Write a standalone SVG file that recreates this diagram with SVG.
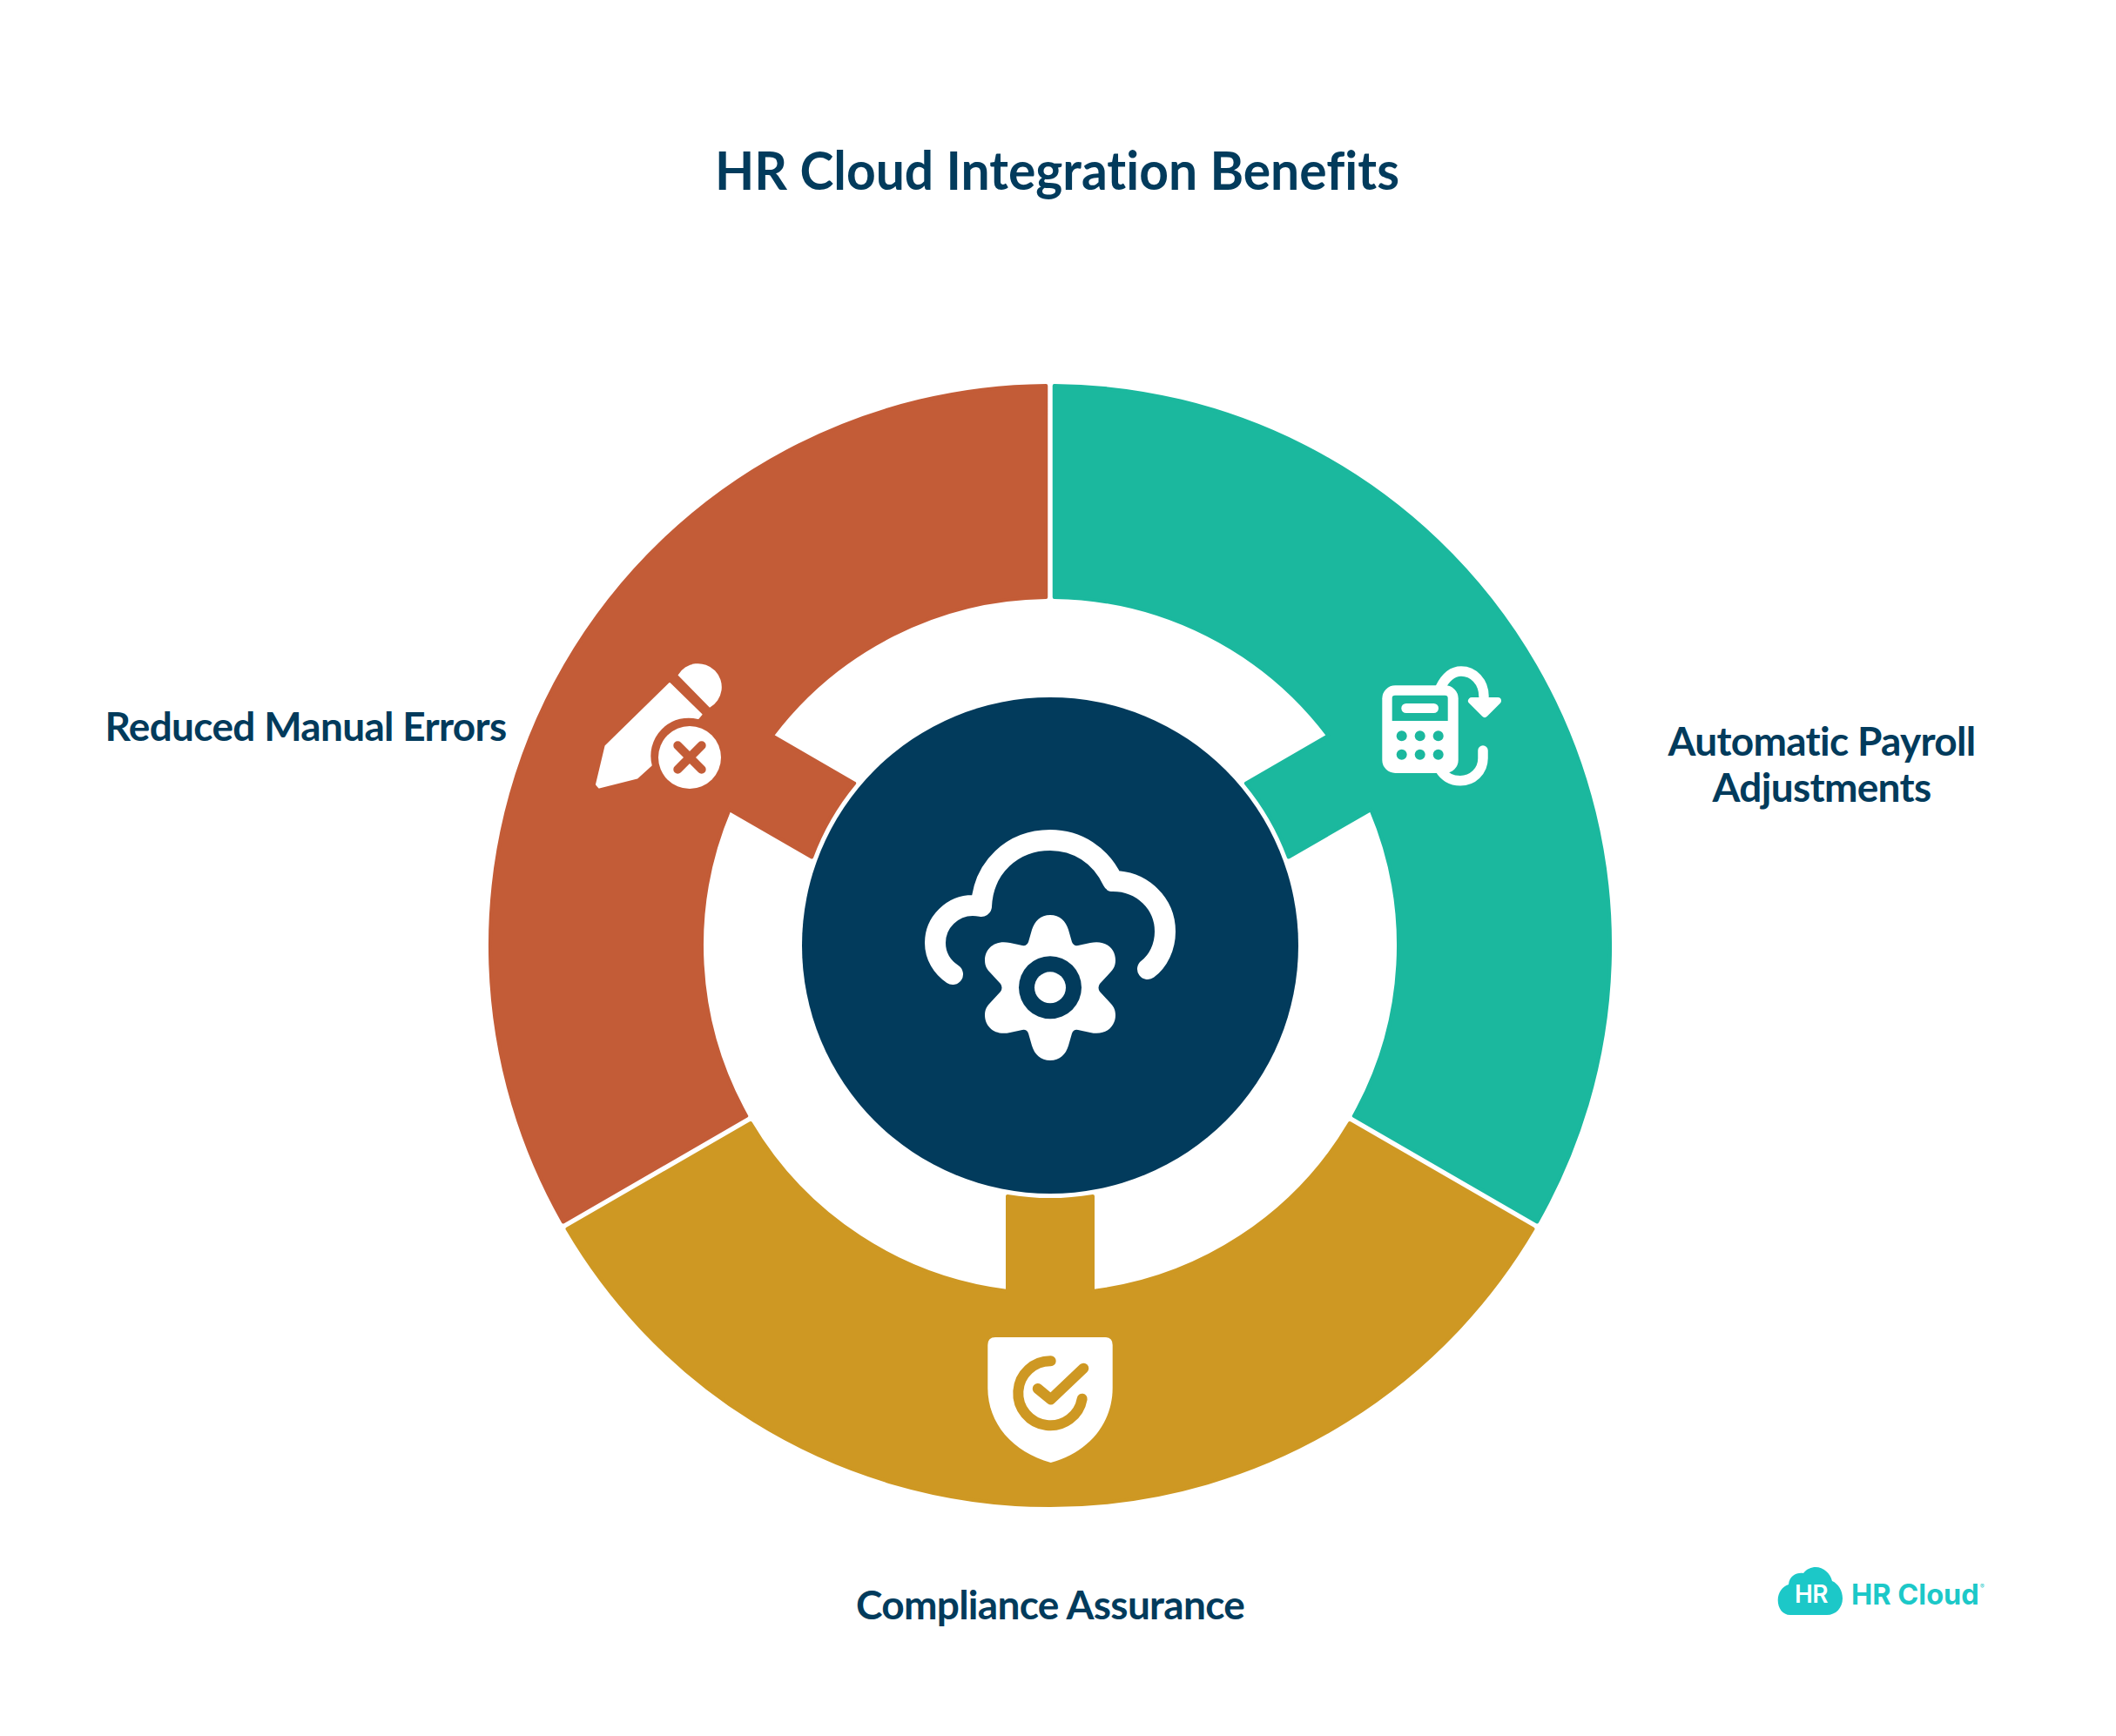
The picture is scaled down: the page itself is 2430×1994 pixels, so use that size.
<svg xmlns="http://www.w3.org/2000/svg" width="2430" height="1994" viewBox="0 0 2430 1994">
<style>
text{font-family:"Lato","Liberation Sans",sans-serif;fill:#023B5C;font-weight:700}
.lbl{font-size:46px;letter-spacing:-0.7px}
.lg{font-family:Inter,"Liberation Sans",sans-serif;font-weight:700;fill:#1CC8C8}
.nl{font-variant-ligatures:none}
.w{fill:#fff}
.ws{fill:none;stroke:#fff;stroke-linecap:round;stroke-linejoin:round}
.seg{stroke-width:4;stroke-linejoin:round}
</style>
<defs>
<path id="seg" d="M-344 204.1L-554.5 325.6A643 643 0 0 0 554.5 325.6L344 204.1A400 400 0 0 1 49 397L49 287.9A292 292 0 0 1 -49 287.9L-49 397A400 400 0 0 1 -344 204.1Z"/>
</defs>
<rect width="2430" height="1994" fill="#fff"/>
<text id="title" class="nl" x="821" y="218" textLength="786" lengthAdjust="spacingAndGlyphs" style="font-size:62px">HR Cloud Integration Benefits</text>
<g id="segments">
<g id="seg-teal"><use href="#seg" class="seg" transform="translate(1206 1086) rotate(-120)" fill="#1BB89E" stroke="#1BB89E"/></g>
<g id="seg-red"><use href="#seg" class="seg" transform="translate(1206 1086) rotate(120)" fill="#C35C37" stroke="#C35C37"/></g>
<g id="seg-gold"><use href="#seg" class="seg" transform="translate(1206 1086)" fill="#CE9823" stroke="#CE9823"/></g>
</g>
<g id="hub">
<circle cx="1206" cy="1086" r="285" fill="#023B5C"/>
<path class="ws" stroke-width="24" d="M1094 1119C1082 1111 1074 1098 1074 1083C1074 1059 1094 1040 1117 1040Q1122 1040 1127 1041C1129 996 1163 965 1206 965C1237 965 1264 982 1278 1012C1312 1012 1338 1038 1338 1070C1338 1088 1330 1104 1318 1113"/>
<path class="w" d="M1206 1051C1217 1051 1224 1058 1227 1068L1231 1082Q1233 1087 1238 1086L1252 1083C1270 1079 1281 1090 1281 1103C1281 1110 1278 1114 1275 1117L1263 1130Q1260 1134.5 1263 1139L1275 1152C1278 1155 1281 1159 1281 1166C1281 1179 1270 1190 1252 1186L1238 1183Q1233 1182 1231 1187L1227 1201C1224 1211 1217 1218 1206 1218C1195 1218 1188 1211 1185 1201L1181 1187Q1179 1182 1174 1183L1160 1186C1142 1190 1131 1179 1131 1166C1131 1159 1134 1155 1137 1152L1149 1139Q1152 1134.5 1149 1130L1137 1117C1134 1114 1131 1110 1131 1103C1131 1090 1142 1079 1160 1083L1174 1086Q1179 1087 1181 1082L1185 1068C1188 1058 1195 1051 1206 1051Z"/>
<circle cx="1206" cy="1134.3" r="36" fill="#023B5C"/>
<circle cx="1206" cy="1134.3" r="18" fill="#fff"/>
</g>
<g id="icon-calc">
<path class="ws" stroke-width="11.5" d="M1654 790C1660 778 1668 771 1678 771C1692 771 1704 783 1704 800"/>
<path d="M1690 805H1720L1705 820Z" fill="#fff" stroke="#fff" stroke-width="8" stroke-linejoin="round"/>
<path class="ws" stroke-width="11.5" d="M1703 862V871C1703 886 1691 896.7 1677 896.7C1666 896.7 1658 891 1654 884"/>
<rect x="1587.3" y="787.3" width="87.4" height="100.7" rx="15" fill="#fff"/>
<path d="M1598.7 828V802Q1598.7 798.7 1602 798.7H1659.4Q1662.7 798.7 1662.7 802V828Z" fill="#1BB89E"/>
<rect x="1609.3" y="808" width="42.7" height="11" rx="5.5" fill="#fff"/>
<g fill="#1BB89E"><circle cx="1609.7" cy="845.3" r="6"/><circle cx="1630.7" cy="845.3" r="6"/><circle cx="1651.7" cy="845.3" r="6"/><circle cx="1609.7" cy="866.7" r="6"/><circle cx="1630.7" cy="866.7" r="6"/><circle cx="1651.7" cy="866.7" r="6"/></g>
</g>
<g id="icon-pencil">
<path class="w" d="M778.5 775.5A27 27 0 1 1 815 812.7Z"/>
<path class="w" stroke="#fff" stroke-width="2" stroke-linejoin="round" d="M769 785L805.5 820.7L801.7 825A44.5 44.5 0 0 0 747.7 879L731.7 893.5L688 904.5L685 901L695.5 857Z"/>
<circle cx="792" cy="870" r="36" fill="#fff"/>
<path d="M778.3 856.3L805.7 883.7M805.7 856.3L778.3 883.7" stroke="#C35C37" stroke-width="10" stroke-linecap="round" fill="none"/>
</g>
<g id="icon-shield">
<path class="w" d="M1143 1536H1269Q1277.7 1536 1277.7 1545V1594C1277.7 1635 1250 1668 1206.7 1680C1163 1668 1134.3 1635 1134.3 1594V1545Q1134.3 1536 1143 1536Z"/>
<path d="M1206.7 1563.3A37 37 0 1 0 1242.7 1606.7M1191.7 1595L1206.7 1607.3L1244.3 1571.7" fill="none" stroke="#CE9823" stroke-width="12" stroke-linecap="round" stroke-linejoin="round"/>
</g>
<g id="labels">
<text class="lbl" x="351" y="851" text-anchor="middle">Reduced Manual Errors</text>
<text class="lbl" x="2092" y="868" text-anchor="middle">Automatic Payroll</text>
<text class="lbl" x="2092" y="921" text-anchor="middle">Adjustments</text>
<text class="lbl" x="1206" y="1860" text-anchor="middle">Compliance Assurance</text>
</g>
<g id="logo">
<path d="M2056 1855C2047 1855 2041.7 1847 2041.7 1838C2041.7 1829 2047 1822 2054 1820C2055 1810 2063 1806 2071 1807C2075 1802 2080 1800 2085 1800C2094 1800 2102 1807 2104 1816C2111 1819 2116 1827 2116 1836C2116 1847 2108 1855 2098 1855Z" fill="#1CC8C8"/>
<text class="lg" x="2080" y="1841" text-anchor="middle" style="font-size:28px;font-weight:600;fill:#fff;letter-spacing:-.5px">HR</text>
<text class="lg" x="2126" y="1843" style="font-size:32.5px">HR Cloud</text>
<text class="lg" x="2274" y="1825" style="font-size:7px;font-weight:400">®</text>
</g>
</svg>
